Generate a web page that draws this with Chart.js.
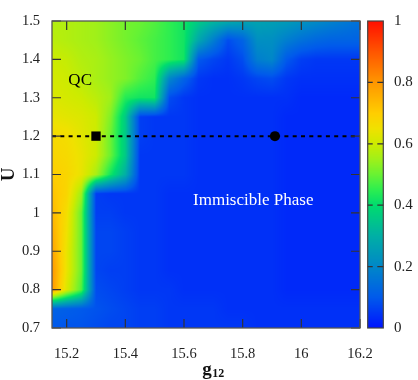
<!DOCTYPE html>
<html>
<head>
<meta charset="utf-8">
<script src="https://cdn.jsdelivr.net/npm/chart.js@4.4.0/dist/chart.umd.min.js"></script>
<style>
  html, body { margin: 0; padding: 0; background: #fff; }
</style>
</head>
<body>
<canvas id="c" width="418" height="380"></canvas>
<script>
// grid of g12 (columns) and U (rows, top row first)
const gValues = [15.15, 15.20, 15.25, 15.30, 15.35, 15.40, 15.45, 15.50, 15.55, 15.60, 15.65,
                 15.70, 15.75, 15.80, 15.85, 15.90, 15.95, 16.00, 16.05, 16.10, 16.15, 16.20];
const uValues = [1.50, 1.45, 1.40, 1.35, 1.30, 1.25, 1.20, 1.15, 1.10, 1.05, 1.00,
                 0.95, 0.90, 0.85, 0.80, 0.75, 0.70];

// order parameter, one array per U row
const rowU150 = [0.57,0.57,0.56,0.55,0.53,0.51,0.50,0.48,0.45,0.42,0.36,0.32,0.29,0.27,0.27,0.26,0.25,0.23,0.21,0.19,0.17,0.15];
const rowU145 = [0.58,0.57,0.56,0.55,0.53,0.51,0.49,0.47,0.45,0.42,0.28,0.18,0.08,0.12,0.22,0.22,0.18,0.15,0.13,0.12,0.12,0.12];
const rowU140 = [0.60,0.59,0.57,0.56,0.54,0.52,0.50,0.47,0.45,0.42,0.10,0.07,0.05,0.08,0.18,0.20,0.10,0.06,0.05,0.05,0.05,0.05];
const rowU135 = [0.61,0.60,0.58,0.56,0.54,0.52,0.48,0.45,0.20,0.12,0.05,0.04,0.04,0.05,0.07,0.08,0.05,0.04,0.04,0.04,0.04,0.04];
const rowU130 = [0.62,0.61,0.60,0.58,0.55,0.44,0.42,0.42,0.08,0.05,0.04,0.04,0.04,0.04,0.04,0.04,0.04,0.03,0.03,0.03,0.03,0.03];
const rowU125 = [0.64,0.63,0.62,0.60,0.52,0.36,0.06,0.05,0.05,0.05,0.04,0.04,0.04,0.04,0.04,0.04,0.03,0.03,0.03,0.03,0.03,0.03];
const rowU120 = [0.67,0.66,0.63,0.60,0.50,0.36,0.06,0.05,0.05,0.05,0.04,0.04,0.04,0.04,0.04,0.04,0.03,0.03,0.03,0.03,0.03,0.03];
const rowU115 = [0.68,0.67,0.64,0.60,0.50,0.36,0.05,0.05,0.05,0.05,0.04,0.04,0.04,0.04,0.04,0.04,0.03,0.03,0.03,0.03,0.03,0.03];
const rowU110 = [0.70,0.68,0.64,0.56,0.42,0.30,0.05,0.05,0.05,0.05,0.04,0.04,0.04,0.04,0.04,0.04,0.03,0.03,0.03,0.03,0.03,0.03];
const rowU105 = [0.72,0.68,0.55,0.06,0.05,0.05,0.05,0.05,0.04,0.04,0.04,0.04,0.04,0.04,0.04,0.04,0.03,0.03,0.03,0.03,0.03,0.03];
const rowU100 = [0.74,0.66,0.50,0.06,0.06,0.05,0.05,0.05,0.04,0.04,0.04,0.04,0.04,0.04,0.04,0.04,0.03,0.03,0.03,0.03,0.03,0.03];
const rowU095 = [0.76,0.65,0.50,0.07,0.07,0.06,0.05,0.05,0.04,0.04,0.04,0.04,0.04,0.04,0.04,0.04,0.03,0.03,0.03,0.03,0.03,0.03];
const rowU090 = [0.78,0.64,0.50,0.07,0.07,0.06,0.05,0.05,0.04,0.04,0.04,0.04,0.04,0.04,0.04,0.04,0.03,0.03,0.03,0.03,0.03,0.03];
const rowU085 = [0.80,0.64,0.50,0.07,0.06,0.06,0.05,0.05,0.04,0.04,0.04,0.04,0.04,0.04,0.04,0.04,0.03,0.03,0.03,0.03,0.03,0.03];
const rowU080 = [0.80,0.62,0.48,0.08,0.07,0.06,0.05,0.05,0.05,0.04,0.04,0.04,0.04,0.04,0.04,0.04,0.03,0.03,0.03,0.03,0.03,0.03];
const rowU075 = [0.12,0.11,0.10,0.09,0.08,0.07,0.06,0.06,0.05,0.05,0.05,0.05,0.04,0.04,0.04,0.04,0.04,0.04,0.04,0.04,0.04,0.04];
const rowU070 = [0.10,0.09,0.09,0.08,0.07,0.07,0.06,0.06,0.05,0.05,0.05,0.05,0.05,0.05,0.04,0.04,0.04,0.04,0.04,0.04,0.04,0.04];
const zRows = [rowU150, rowU145, rowU140, rowU135, rowU130, rowU125, rowU120, rowU115, rowU110,
               rowU105, rowU100, rowU095, rowU090, rowU085, rowU080, rowU075, rowU070];

// ticks
const xTicks = [15.2, 15.4, 15.6, 15.8, 16, 16.2];
const yTicks = [0.7, 0.8, 0.9, 1, 1.1, 1.2, 1.3, 1.4, 1.5];
const cbTicks = [0, 0.2, 0.4, 0.6, 0.8, 1];

// marks on the cut at U = 1.2
const squarePoint = [{ x: 15.3, y: 1.2 }];
const circlePoint = [{ x: 15.91, y: 1.2 }];
const cutLine = [{ x: 15.15, y: 1.2 }, { x: 16.2, y: 1.2 }];

// text labels
const qcLabel = { text: 'QC', x: 15.246, y: 1.346 };
const phaseLabel = { text: 'Immiscible Phase', x: 15.836, y: 1.031 };

// colour map (jet-like)
const cmapStops = [0, 0.1, 0.2, 0.3, 0.4, 0.45, 0.5, 0.55, 0.6, 0.65, 0.7, 0.8, 0.9, 1];
const cmapColors = [[0,20,255],[0,90,235],[0,135,200],[0,175,165],[0,220,110],[45,238,80],[105,242,50],
                    [160,240,25],[205,235,0],[240,225,0],[255,205,0],[255,150,0],[255,85,0],[255,15,0]];

const FONT = "'Liberation Serif', 'Times New Roman', serif";

function colorAt(v) {
  v = Math.max(0, Math.min(1, v));
  let i = 1;
  while (i < cmapStops.length - 1 && v > cmapStops[i]) i++;
  const t = (v - cmapStops[i - 1]) / (cmapStops[i] - cmapStops[i - 1]);
  const a = cmapColors[i - 1], b = cmapColors[i];
  return [0, 1, 2].map(k => Math.round(a[k] + (b[k] - a[k]) * t));
}

function findCell(arr, v, asc) {
  for (let i = 0; i < arr.length - 1; i++) {
    const lo = arr[i], hi = arr[i + 1];
    if (asc ? (v >= lo && v <= hi) : (v <= lo && v >= hi)) {
      return [i, (v - lo) / (hi - lo)];
    }
  }
  if (asc ? v < arr[0] : v > arr[0]) return [0, 0];
  return [arr.length - 2, 1];
}

// bilinear value on the grid
function valueAt(g, u) {
  const [i, tx] = findCell(gValues, g, true);
  const [j, ty] = findCell(uValues, u, false);
  const top = zRows[j][i] * (1 - tx) + zRows[j][i + 1] * tx;
  const bot = zRows[j + 1][i] * (1 - tx) + zRows[j + 1][i + 1] * tx;
  return top * (1 - ty) + bot * ty;
}

function noPad(s) {
  s.paddingTop = 0; s.paddingBottom = 0; s.paddingLeft = 0; s.paddingRight = 0;
}

const heatPlugin = {
  id: 'heat',
  beforeDatasetsDraw(chart) {
    const { ctx, chartArea: a, scales } = chart;
    const w = Math.round(a.right - a.left), h = Math.round(a.bottom - a.top);
    const off = document.createElement('canvas');
    off.width = w; off.height = h;
    const octx = off.getContext('2d');
    const img = octx.createImageData(w, h);
    for (let py = 0; py < h; py++) {
      const u = scales.y.getValueForPixel(a.top + py + 0.5);
      for (let px = 0; px < w; px++) {
        const g = scales.x.getValueForPixel(a.left + px + 0.5);
        const c = colorAt(valueAt(g, u));
        const k = (py * w + px) * 4;
        img.data[k] = c[0]; img.data[k + 1] = c[1]; img.data[k + 2] = c[2]; img.data[k + 3] = 255;
      }
    }
    octx.putImageData(img, 0, 0);
    ctx.drawImage(off, a.left, a.top);

    // colour bar
    const cb = scales.cb;
    const bx = cb.left + 7.7, bw = 15.6;
    const yTop = cb.getPixelForValue(1), yBot = cb.getPixelForValue(0);
    for (let py = Math.floor(yTop); py < Math.ceil(yBot); py++) {
      const c = colorAt(cb.getValueForPixel(py + 0.5));
      ctx.fillStyle = 'rgb(' + c.join(',') + ')';
      ctx.fillRect(bx, py, bw, 1);
    }
    ctx.strokeStyle = '#444';
    ctx.lineWidth = 1.2;
    ctx.strokeRect(bx, yTop, bw, yBot - yTop);
    ctx.strokeStyle = '#333';
    cbTicks.forEach(v => {
      if (v === 0 || v === 1) return;
      const yy = cb.getPixelForValue(v);
      ctx.beginPath();
      ctx.moveTo(bx, yy); ctx.lineTo(bx + 5, yy);
      ctx.moveTo(bx + bw - 6, yy); ctx.lineTo(bx + bw, yy);
      ctx.stroke();
    });
  },
  afterDatasetsDraw(chart) {
    const { ctx, chartArea: a, scales: { x, y } } = chart;
    ctx.save();
    // inward tick marks on all four sides
    ctx.strokeStyle = '#333';
    ctx.lineWidth = 1.2;
    ctx.beginPath();
    xTicks.forEach(v => {
      const px = x.getPixelForValue(v);
      ctx.moveTo(px, a.bottom); ctx.lineTo(px, a.bottom - 9);
      ctx.moveTo(px, a.top); ctx.lineTo(px, a.top + 9);
    });
    yTicks.forEach(v => {
      const py = y.getPixelForValue(v);
      ctx.moveTo(a.left, py); ctx.lineTo(a.left + 9, py);
      ctx.moveTo(a.right, py); ctx.lineTo(a.right - 9, py);
    });
    ctx.stroke();
    ctx.strokeStyle = '#555';
    ctx.lineWidth = 1.3;
    ctx.strokeRect(a.left, a.top, a.right - a.left, a.bottom - a.top);

    // labels in the map
    ctx.textAlign = 'center';
    ctx.textBaseline = 'middle';
    ctx.font = '17px ' + FONT;
    ctx.fillStyle = '#000';
    ctx.fillText(qcLabel.text, x.getPixelForValue(qcLabel.x), y.getPixelForValue(qcLabel.y));
    ctx.fillStyle = '#fff';
    ctx.fillText(phaseLabel.text, x.getPixelForValue(phaseLabel.x), y.getPixelForValue(phaseLabel.y));

    // x-axis title g with subscript 12
    ctx.fillStyle = '#111';
    ctx.textAlign = 'left';
    ctx.textBaseline = 'alphabetic';
    const cx = (a.left + a.right) / 2 + 7;
    ctx.font = 'bold 19px ' + FONT;
    const gw = ctx.measureText('g').width;
    ctx.font = 'bold 12px ' + FONT;
    const sw = ctx.measureText('12').width;
    const sx = cx - (gw + sw) / 2;
    ctx.font = 'bold 19px ' + FONT;
    ctx.fillText('g', sx, 375);
    ctx.font = 'bold 12px ' + FONT;
    ctx.fillText('12', sx + gw + 0.5, 377);
    ctx.restore();
  }
};

const tickFont = { family: FONT, size: 14.5 };

new Chart(document.getElementById('c'), {
  type: 'scatter',
  data: {
    datasets: [
      { data: squarePoint, yAxisID: 'y', pointStyle: 'rect', pointRadius: 6.6, backgroundColor: '#000', borderColor: '#000', borderWidth: 0 },
      { data: circlePoint, yAxisID: 'y', pointStyle: 'circle', pointRadius: 5, backgroundColor: '#000', borderColor: '#000', borderWidth: 0 },
      { data: cutLine, yAxisID: 'y', showLine: true, borderColor: '#000', borderWidth: 2, borderDash: [4, 4.3], pointRadius: 0, fill: false }
    ]
  },
  options: {
    responsive: false,
    animation: false,
    devicePixelRatio: 1,
    events: [],
    layout: { padding: { top: 21, left: 0, right: 0, bottom: 0 } },
    plugins: { legend: { display: false }, tooltip: { enabled: false } },
    scales: {
      x: {
        type: 'linear', position: 'bottom', min: 15.15, max: 16.2,
        grid: { display: false, drawTicks: false }, border: { display: false },
        afterBuildTicks: s => { s.ticks = xTicks.map(v => ({ value: v })); },
        afterFit: s => { s.height = 52; noPad(s); },
        ticks: { font: tickFont, color: '#222', padding: 17, maxRotation: 0, autoSkip: false, callback: v => String(v) }
      },
      y: {
        type: 'linear', position: 'left', min: 0.7, max: 1.5,
        grid: { display: false, drawTicks: false }, border: { display: false },
        afterBuildTicks: s => { s.ticks = yTicks.map(v => ({ value: v })); },
        afterFit: s => { s.width = 52; noPad(s); },
        ticks: { font: tickFont, color: '#222', padding: 12, autoSkip: false, callback: v => String(v) },
        title: { display: true, text: 'U', color: '#111', padding: 0, font: { family: FONT, size: 19, weight: 'bold', lineHeight: 1 } }
      },
      cb: {
        type: 'linear', position: 'right', min: 0, max: 1,
        grid: { display: false, drawTicks: false }, border: { display: false },
        afterBuildTicks: s => { s.ticks = cbTicks.map(v => ({ value: v })); },
        afterFit: s => { s.width = 58; noPad(s); },
        ticks: { font: { family: FONT, size: 15 }, color: '#222', padding: 34, autoSkip: false, callback: v => String(v) }
      }
    }
  },
  plugins: [heatPlugin]
});
</script>
</body>
</html>
